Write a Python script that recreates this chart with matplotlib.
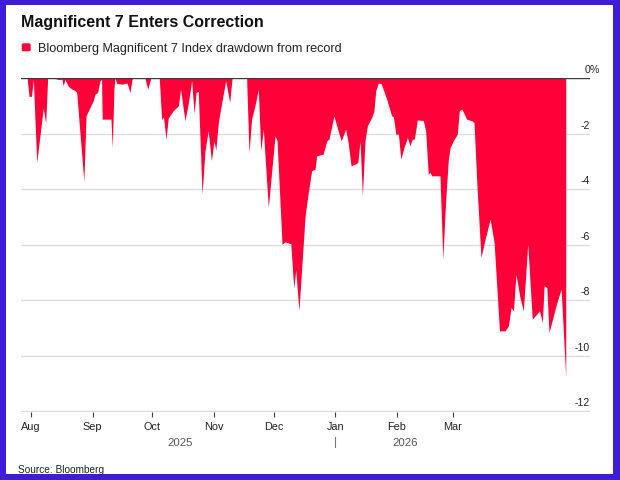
import numpy as np
import matplotlib
matplotlib.use('Agg')
import matplotlib.pyplot as plt
import matplotlib.transforms as mtransforms
from matplotlib.patches import Rectangle, FancyBboxPatch

plt.rcParams["font.family"] = ["Liberation Sans", "DejaVu Sans"]

# days counted from Aug 1, 2025 ; drawdown in %
days = [-5.0, -1.9, -1.0, 0.25, 1.2, 2.9, 6.2, 7.4, 8.4, 11.1, 13.6, 15.6, 16.2, 17.1, 18.8,
        20.6, 22.1, 23.0, 26.6, 27.7, 29.7, 31.3, 32.2, 33.5, 34.7, 35.5, 35.8, 40.2, 40.9,
        41.7, 42.2, 43.2, 45.8, 48.3, 49.8, 50.8, 51.3, 57.3, 58.7, 60.3, 64.5, 65.7, 66.6,
        67.9, 69.0, 71.5, 74.1, 75.2, 77.4, 79.1, 80.8, 82.0, 83.0, 84.1, 86.0, 87.5, 89.1,
        90.7, 92.0, 92.9, 94.2, 95.9, 97.9, 99.9, 101.1, 108.4, 109.6, 110.9, 112.6, 114.3,
        115.5, 116.8, 119.3, 122.7, 123.7, 126.2, 127.7, 130.6, 132.1, 133.1, 134.7, 137.8,
        139.4, 141.1, 142.8, 143.6, 146.9, 148.7, 149.8, 152.3, 153.6, 155.9, 158.2, 159.4,
        160.9, 162.9, 164.3, 165.4, 166.6, 167.9, 169.1, 171.3, 172.4, 173.3, 174.6, 176.0,
        178.8, 181.3, 182.2, 183.4, 184.7, 185.9, 187.5, 189.2, 190.5, 191.7, 192.7, 194.2,
        197.2, 198.4, 199.7, 200.6, 201.5, 205.6, 207.0, 208.5, 209.8, 210.7, 212.3, 214.3,
        215.3, 216.5, 217.3, 219.0, 221.6, 222.7, 224.1, 226.2, 228.3, 230.8, 232.8, 235.5,
        238.3, 240.0, 241.3, 242.5, 243.8, 245.8, 247.5, 249.7, 252.0, 254.2, 255.6, 257.1,
        257.9, 259.3, 260.4, 262.6, 264.6, 266.5, 268.8]
drawdown = [0, 0, -0.66, -0.66, -0.05, -3.04, -1.08, -1.63, 0, 0, -0.05, -0.05, -0.28, -0.05, -0.3,
            -0.4, -0.45, -0.52, -3.72, -1.36, -1.06, -0.82, -0.58, -0.52, -0.1, -0.05, -1.48, -1.48, -2.5,
            -0.4, 0, -0.2, -0.22, -0.18, -0.52, -0.05, 0, 0, -0.4, 0, 0, -1.5, -1.4,
            -2.2, -1.44, -1.18, -1.0, -0.4, -1.54, -0.9, -0.1, -1.27, -0.52, -0.48, -4.18, -2.6, -1.9,
            -2.98, -2.26, -2.6, -1.6, -0.88, -0.1, -0.88, 0, 0, -2.7, -1.48, -1.0, -0.4,
            -2.62, -1.84, -4.66, -2.08, -2.25, -5.98, -5.9, -5.96, -7.56, -6.9, -8.38, -4.96,
            -4.12, -3.34, -3.28, -2.8, -2.74, -2.26, -2.2, -1.36, -1.7, -2.26, -1.84, -2.3,
            -3.16, -3.1, -3.04, -2.26, -4.24, -2.26, -1.72, -1.42, -1.18, -0.46, -0.18, -0.2,
            -0.76, -1.36, -1.4, -2.02, -2.02, -2.92, -2.5, -2.14, -2.44, -2.2, -2.2, -1.51,
            -1.53, -1.9, -3.46, -3.4, -3.52, -3.52, -6.52, -4.36, -2.92, -2.5, -2.26, -2.02,
            -1.18, -1.12, -1.22, -1.48, -1.54, -1.6, -3.76, -6.46, -5.8, -5.08, -5.92, -9.1,
            -9.1, -8.92, -8.26, -8.38, -7.06, -7.9, -8.38, -5.98, -8.68, -8.5, -8.38, -8.8,
            -7.48, -7.54, -9.16, -8.56, -8.02, -7.6, -10.75]

month_days = [0, 31, 61, 92, 122, 153, 184, 212]
month_labels = ['Aug', 'Sep', 'Oct', 'Nov', 'Dec', 'Jan', 'Feb', 'Mar']
year_labels = ['2025', '2026']
year_pos = [75, 188]
y_ticks = [-2, -4, -6, -8, -10, -12]

RED = '#ff0038'
BLUE = '#3f1dd8'
W, H = 620, 481

def fx(px):
    return px / W

def fy(py):
    return 1 - py / H

fig = plt.figure(figsize=(6.2, 4.81), dpi=100, facecolor=BLUE)
fig.patches.append(Rectangle((fx(6), fy(475)), fx(613) - fx(6), fy(6) - fy(475),
                             transform=fig.transFigure, facecolor='white', edgecolor='none', zorder=-5))

ax = fig.add_axes([fx(21), fy(413), fx(590) - fx(21), fy(79) - fy(413)])
ax.set_zorder(5)
ax.set_facecolor('none')
ax.fill_between(days, drawdown, 0, color=RED, lw=0, zorder=2)
ax.axhline(0, color='#3a3a3a', lw=1, zorder=3)

ax.set_xlim(-5.0, 281.0)
ax.set_ylim(-12.02, 0)
ax.set_yticks(y_ticks)
ax.yaxis.grid(True, color='#dcdcdc', lw=1)
ax.set_axisbelow(True)
ax.tick_params(axis='y', length=0, labelleft=False)
ax.set_xticks(month_days)
ax.set_xticklabels(month_labels)
ax.tick_params(axis='x', direction='out', length=3.6, width=0.8, color='#444',
               labelsize=7.8, labelcolor='#222', pad=3.0)
for s in ax.spines.values():
    s.set_visible(False)

ylab = mtransforms.offset_copy(mtransforms.blended_transform_factory(ax.transAxes, ax.transData),
                               fig=fig, y=6, units='dots')
for v in y_ticks:
    ax.text(1.0, v, f'{v}', transform=ylab, ha='right', va='baseline', fontsize=7.6, color='#222')
ax.text(1.0, 0, '0', transform=ylab, ha='right', va='baseline', fontsize=7.6, color='#222')
ax.text(1.0, 0, '%', transform=ylab, ha='left', va='baseline', fontsize=7.6, color='#222')

yr = mtransforms.blended_transform_factory(ax.transData, fig.transFigure)
for lab, d in zip(year_labels, year_pos):
    ax.text(d, fy(445.7), lab, transform=yr, ha='center', va='baseline', fontsize=8.2, color='#555')
ax.plot([month_days[5], month_days[5]], [fy(438), fy(448)], transform=yr, color='#777', lw=0.8,
        clip_on=False)

fig.text(fx(21), fy(26.7), 'Magnificent 7 Enters Correction', fontsize=11.5, fontweight='bold',
         color='#111', va='baseline')
fig.patches.append(FancyBboxPatch((fx(21.7), fy(52.3)), fx(9), fy(44.3) - fy(52.3),
                                  boxstyle='round,pad=0,rounding_size=0.003',
                                  transform=fig.transFigure, facecolor=RED, edgecolor='none'))
fig.text(fx(37.7), fy(52.3), 'Bloomberg Magnificent 7 Index drawdown from record', fontsize=9.1,
         color='#222', va='baseline')
fig.text(fx(17.7), fy(473.5), 'Source: Bloomberg', fontsize=7.3, color='#222', va='baseline')

fig.savefig('out.png', dpi=100, facecolor=BLUE)
